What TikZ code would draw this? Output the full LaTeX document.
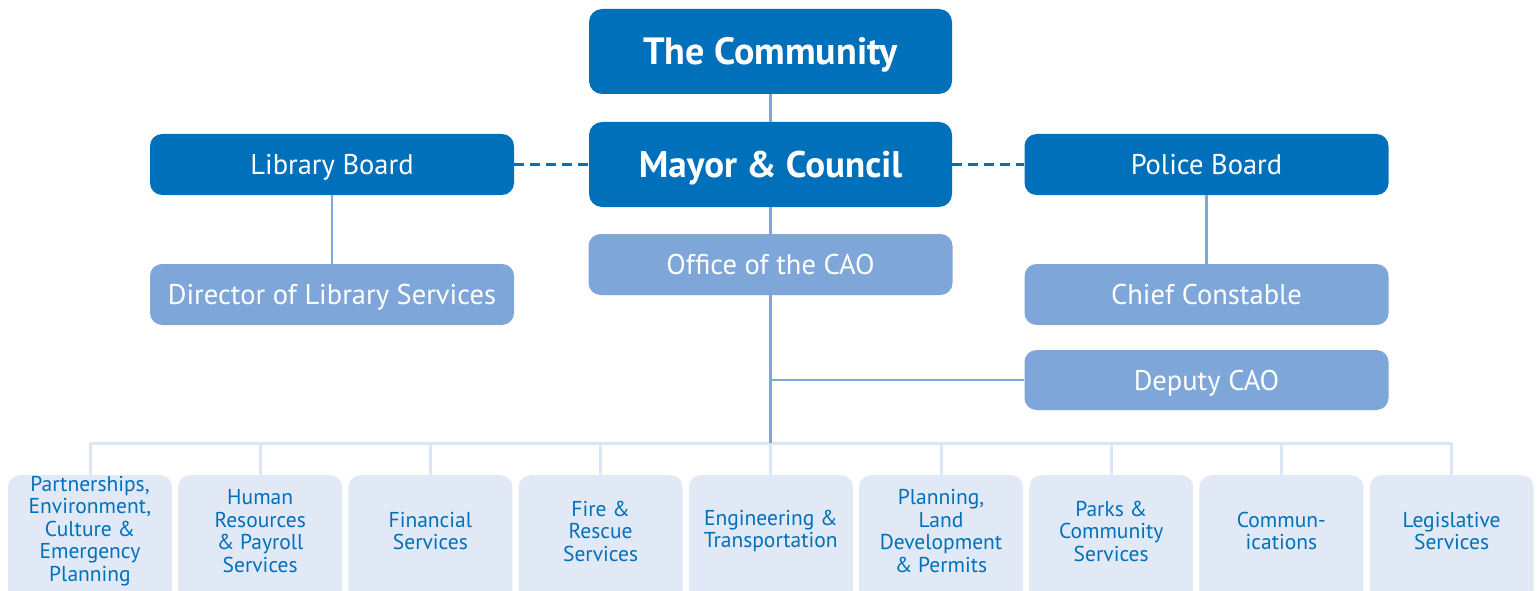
\documentclass[tikz,border=0pt]{standalone}
\usepackage{fontspec}
\setmainfont{PT Sans}
\definecolor{dark}{HTML}{0070BA}
\definecolor{mid}{HTML}{7FA6D9}
\definecolor{pale}{HTML}{E1E9F6}
\definecolor{paleline}{HTML}{DCE5F3}
\begin{document}
\begin{tikzpicture}[x=1pt,y=-1pt,
  topbox/.style={rectangle,rounded corners=13pt,fill=dark,text=white,font=\fontsize{38}{42}\selectfont\bfseries,minimum width=363pt,minimum height=85pt,inner sep=0pt,text height=26.5pt,text depth=0pt},
  sidebox/.style={rectangle,rounded corners=12pt,fill=dark,text=white,font=\fontsize{28.5}{32}\selectfont,minimum width=364pt,minimum height=61pt,inner sep=0pt,text height=20pt,text depth=0pt},
  midbox/.style={rectangle,rounded corners=12pt,fill=mid,text=white,font=\fontsize{28.5}{32}\selectfont,minimum width=364pt,minimum height=61pt,inner sep=0pt,text height=20pt,text depth=0pt},
  deptbox/.style={rectangle,rounded corners=12pt,fill=pale,minimum width=164pt,minimum height=130pt,inner sep=0pt},
  depttext/.style={text=dark,font=\fontsize{21.5}{22.5}\selectfont,align=center,inner sep=0pt},
  conn/.style={draw=mid,line width=2.6pt},
  paleconn/.style={draw=paleline,line width=3pt},
  dashconn/.style={draw=dark,line width=2.5pt,dash pattern=on 10pt off 6pt}]
\useasboundingbox (0,0) rectangle (1539,591);
\clip (0,0) rectangle (1539,591);

\coordinate (junc) at (770.5,443);
\coordinate (deputyj) at (770.5,380);
\coordinate (hl) at (90,443);
\coordinate (hr) at (1451.5,443);

\node[topbox] (comm) at (770.5,51.5) {The Community};
\node[topbox,font=\fontsize{37}{42}\selectfont\bfseries] (mayor) at (770.5,164.5) {Mayor \& Council};
\node[sidebox] (lib) at (332,164.5) {Library Board};
\node[sidebox] (police) at (1206.5,164.5) {Police Board};
\node[midbox] (cao) at (770.5,264.5) {Office of the CAO};
\node[midbox] (dir) at (332,294.5) {Director of Library Services};
\node[midbox] (chief) at (1206.5,294.5) {Chief Constable};
\node[midbox,minimum height=60pt] (deputy) at (1206.5,380) {Deputy CAO};

\draw[conn] (comm.south) -- (mayor.north);
\draw[conn] (mayor.south) -- (cao.north);
\draw[conn] (lib.south) -- (dir.north);
\draw[conn] (police.south) -- (chief.north);
\draw[dashconn] (lib.east) -- (mayor.west);
\draw[dashconn] (mayor.east) -- (police.west);

\draw[paleconn] (hl) -- (hr);

\foreach \i/\t in {0/{Partnerships,\\Environment,\\Culture \&\\Emergency\\Planning},
                   1/{Human\\Resources\\\& Payroll\\Services},
                   2/{Financial\\Services},
                   3/{Fire \&\\Rescue\\Services},
                   4/{Engineering \&\\Transportation},
                   5/{Planning,\\Land\\Development\\\& Permits},
                   6/{Parks \&\\Community\\Services},
                   7/{Commun-\\ications},
                   8/{Legislative\\Services}} {
  \node[deptbox,anchor=north] (d\i) at ({90+170.2*\i},475) {};
  \node[depttext] (t\i) at ({90+170.2*\i},531) {\t};
  \coordinate (top\i) at ({90+170.2*\i},443);
  \draw[paleconn] (top\i) -- (d\i.north);
}

\draw[conn] (cao.south) -- (junc);
\draw[conn] (deputyj) -- (deputy.west);
\end{tikzpicture}
\end{document}
